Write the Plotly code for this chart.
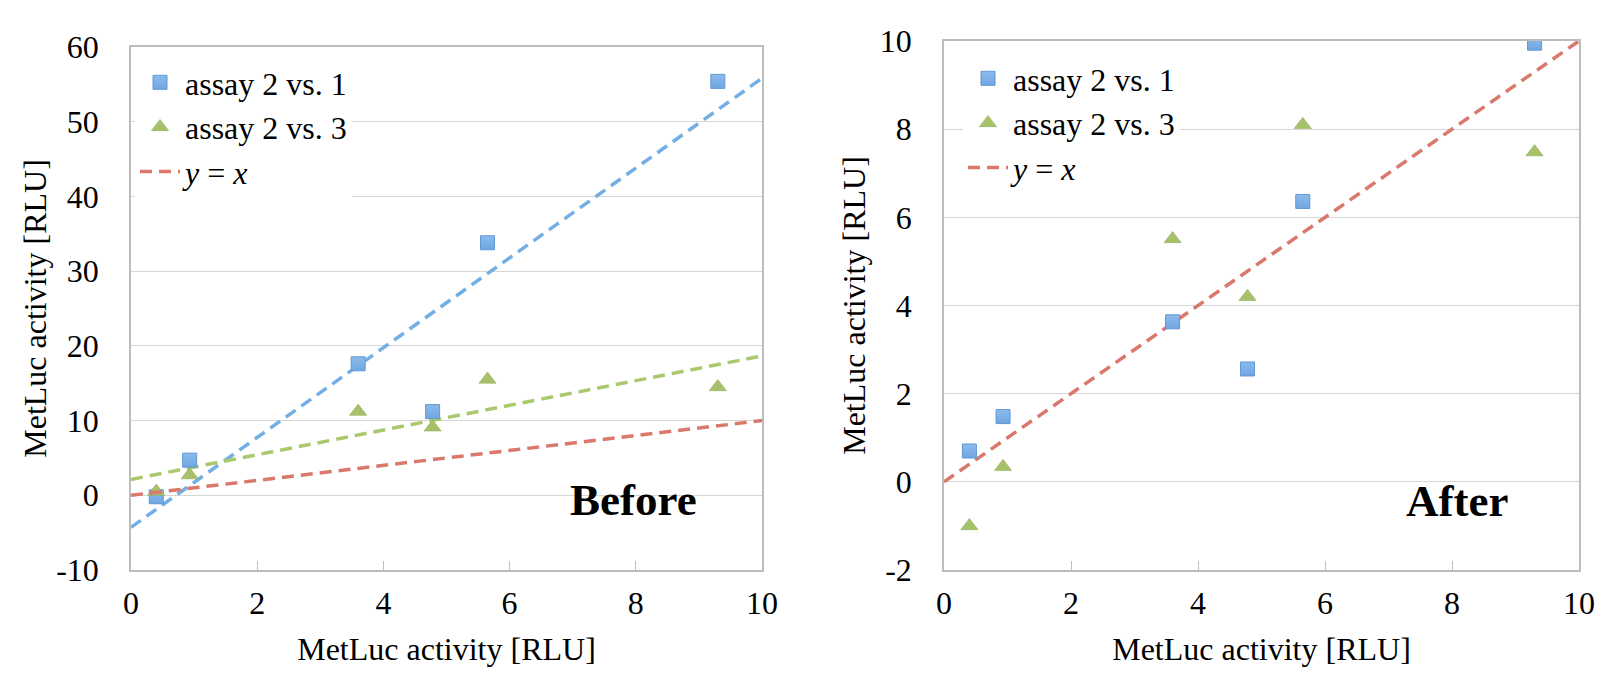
import numpy as np
import plotly.graph_objects as go

# ---------------- data ----------------
activity_x = [0.40, 0.93, 3.60, 4.78, 5.65, 9.30]

before_2v1 = [-0.2, 4.7, 17.6, 11.2, 33.8, 55.4]
before_2v3 = [0.5, 2.7, 11.2, 9.1, 15.5, 14.5]

after_2v1 = [0.70, 1.48, 3.63, 2.56, 6.36, 9.95]
after_2v3 = [-1.0, 0.34, 5.51, 4.20, 8.10, 7.48]

x_range = [0, 10]
x_ticks = [0, 2, 4, 6, 8, 10]
x_ticktext = ["0", "2", "4", "6", "8", "10"]
left_y_ticks = [-10, 0, 10, 20, 30, 40, 50, 60]
left_y_ticktext = ["-10", "0", "10", "20", "30", "40", "50", "60"]
right_y_ticks = [-2, 0, 2, 4, 6, 8, 10]
right_y_ticktext = ["-2", "0", "2", "4", "6", "8", "10"]

series_names = ["assay 2 vs. 1", "assay 2 vs. 3", "<i>y</i> = <i>x</i>"]
axis_title = "MetLuc activity [RLU]"

# ---------------- styles ----------------
FONT = "Liberation Serif"
BLUE_FILL = "#8dbbeb"
BLUE_EDGE = "#5f98d6"
BLUE_LINE = "#73afe4"
GREEN_FILL = "#a6c16a"
GREEN_EDGE = "#8aa850"
GREEN_LINE = "#aac86c"
RED_LINE = "#d9786b"
FRAME = "#bdbdbd"
GRID = "#d6d6d6"
DASH = "12px,7px"
LW = 3.5

W, H = 1608, 675
# plot areas in pixels (left, right, top, bottom)
L1 = (123, 754, 39, 562)
L2 = (936, 1571, 33, 562)


def dom_x(b):
    return [b[0] / W, b[1] / W]


def dom_y(b):
    return [1 - b[3] / H, 1 - b[2] / H]


fig = go.Figure()

square = dict(symbol="square", size=14, color=BLUE_FILL,
              gradient=dict(type="vertical", color="#6fa6e2"),
              line=dict(color=BLUE_EDGE, width=1))
triangle = dict(symbol="triangle-up", size=15, color=GREEN_FILL,
                line=dict(color=GREEN_EDGE, width=0.5))

xs_line = np.array(x_range, dtype=float)

# ---- Before panel ----
b1 = np.polyfit(activity_x, before_2v1, 1)
b3 = np.polyfit(activity_x, before_2v3, 1)
fig.add_trace(go.Scatter(x=xs_line, y=np.polyval(b1, xs_line), mode="lines",
                         line=dict(color=BLUE_LINE, width=LW, dash=DASH),
                         showlegend=False, xaxis="x", yaxis="y", hoverinfo="skip"))
fig.add_trace(go.Scatter(x=xs_line, y=np.polyval(b3, xs_line), mode="lines",
                         line=dict(color=GREEN_LINE, width=LW, dash=DASH),
                         showlegend=False, xaxis="x", yaxis="y", hoverinfo="skip"))
fig.add_trace(go.Scatter(x=activity_x, y=before_2v1, mode="markers", name=series_names[0],
                         marker=square, xaxis="x", yaxis="y", legend="legend"))
fig.add_trace(go.Scatter(x=activity_x, y=before_2v3, mode="markers", name=series_names[1],
                         marker=triangle, xaxis="x", yaxis="y", legend="legend"))
fig.add_trace(go.Scatter(x=xs_line, y=xs_line, mode="lines", name=series_names[2],
                         line=dict(color=RED_LINE, width=LW, dash=DASH),
                         xaxis="x", yaxis="y", legend="legend"))

# ---- After panel ----
fig.add_trace(go.Scatter(x=xs_line, y=xs_line, mode="lines", name=series_names[2],
                         line=dict(color=RED_LINE, width=LW, dash=DASH),
                         xaxis="x2", yaxis="y2", legend="legend2", legendrank=3))
fig.add_trace(go.Scatter(x=activity_x, y=after_2v1, mode="markers", name=series_names[0],
                         marker=square, xaxis="x2", yaxis="y2", legend="legend2", legendrank=1))
fig.add_trace(go.Scatter(x=activity_x, y=after_2v3, mode="markers", name=series_names[1],
                         marker=triangle, xaxis="x2", yaxis="y2", legend="legend2", legendrank=2))


def tickfont():
    return dict(family=FONT, size=32, color="#000000")


def titlefont():
    return dict(family=FONT, size=32, color="#000000")


def xaxis(b, anchor):
    return dict(domain=dom_x(b), anchor=anchor, range=x_range, tickmode="array",
                tickvals=x_ticks, ticktext=x_ticktext, tickfont=tickfont(),
                ticks="inside", ticklen=9, tickwidth=1.2, tickcolor=FRAME,
                ticklabelstandoff=4, showgrid=False, zeroline=False,
                showline=True, linecolor=FRAME, linewidth=1.5, mirror=True,
                title=dict(text=axis_title, font=titlefont(), standoff=17),
                automargin=False, fixedrange=True)


def yaxis(b, anchor, rng, tv, tt, title_standoff):
    return dict(domain=dom_y(b), anchor=anchor, range=rng, tickmode="array",
                tickvals=tv, ticktext=tt, tickfont=tickfont(), ticks="",
                ticklabelstandoff=24, showgrid=True, gridcolor=GRID, gridwidth=1.2,
                zeroline=False, showline=True, linecolor=FRAME, linewidth=1.5,
                mirror=True, title=dict(text=axis_title, font=titlefont(), standoff=title_standoff),
                automargin=False, fixedrange=True)


def legend_opts(x, y):
    return dict(x=x, y=y, font=dict(family=FONT, size=32, color="#000000"),
                bgcolor="rgba(255,255,255,1)", borderwidth=0,
                xanchor="left", yanchor="top", itemwidth=40,
                traceorder="normal", itemclick=False, itemdoubleclick=False)


fig.update_layout(
    template="none",
    width=W, height=H,
    font=dict(family=FONT, size=30, color="#000000"),
    margin=dict(l=0, r=0, t=0, b=0, pad=0),
    paper_bgcolor="white", plot_bgcolor="white",
    showlegend=True,
    xaxis=xaxis(L1, "y"),
    yaxis=yaxis(L1, "x", [-10, 60], left_y_ticks, left_y_ticktext, 0),
    xaxis2=xaxis(L2, "y2"),
    yaxis2=yaxis(L2, "x2", [-2, 10], right_y_ticks, right_y_ticktext, 5),
    legend=legend_opts(127 / W, 1 - 47 / H),
    legend2=legend_opts(955 / W, 1 - 43 / H),
    annotations=[
        dict(text="<b>Before</b>", x=625 / W, y=1 - 492 / H, xref="paper", yref="paper",
             xanchor="center", yanchor="middle", showarrow=False,
             font=dict(family=FONT, size=45, color="#000000")),
        dict(text="<b>After</b>", x=1449 / W, y=1 - 493 / H, xref="paper", yref="paper",
             xanchor="center", yanchor="middle", showarrow=False,
             font=dict(family=FONT, size=45, color="#000000")),
    ],
)

fig.write_html("out.html")
